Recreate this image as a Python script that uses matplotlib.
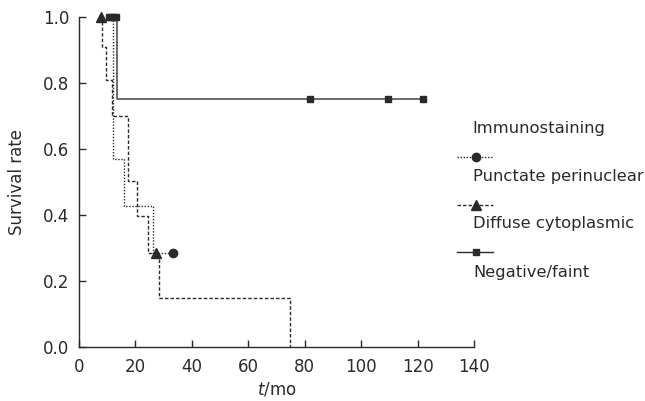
import matplotlib
matplotlib.use("Agg")
import matplotlib.pyplot as plt
from matplotlib.lines import Line2D

# Kaplan-Meier curves (time in months, survival rate)
punctate_t = [11.0, 12.1, 16.0, 26.2, 33.3]
punctate_s = [1.0, 0.571, 0.427, 0.285, 0.285]
punctate_cens_t = [33.3]
punctate_cens_s = [0.285]

diffuse_t = [7.7, 8.0, 9.5, 11.8, 17.4, 20.6, 24.5, 28.2, 74.7]
diffuse_s = [1.0, 0.91, 0.81, 0.70, 0.504, 0.397, 0.285, 0.147, 0.0]
diffuse_cens_t = [7.7, 27.2]
diffuse_cens_s = [1.0, 0.285]

negative_t = [10.5, 13.5, 122.1]
negative_s = [1.0, 0.75, 0.75]
negative_cens_t = [10.5, 11.5, 12.5, 13.2, 81.9, 109.4, 122.1]
negative_cens_s = [1.0, 1.0, 1.0, 1.0, 0.75, 0.75, 0.75]

legend_title = "Immunostaining"
legend_labels = ["Punctate perinuclear", "Diffuse cytoplasmic", "Negative/faint"]

x_ticks = [0, 20, 40, 60, 80, 100, 120, 140]
y_ticks = [0.0, 0.2, 0.4, 0.6, 0.8, 1.0]

W, H = 645, 401
fig = plt.figure(figsize=(W / 100, H / 100), dpi=100)
ax = fig.add_axes([79 / W, 1 - 347 / H, (474 - 79) / W, (347 - 17) / H])

ink = "#2a2a2a"
solid_col = "#606060"
fs = 12
leg_fs = 11.8

# curves
ax.plot(punctate_t, punctate_s, drawstyle="steps-post", color=ink, lw=1.0,
        ls=(0, (1, 1.2)), clip_on=False)
ax.plot(punctate_cens_t, punctate_cens_s, "o", color=ink, ms=6, clip_on=False)

ax.plot(diffuse_t, diffuse_s, drawstyle="steps-post", color=ink, lw=1.0,
        ls=(0, (2.5, 1.5)), clip_on=False)
ax.plot(diffuse_cens_t, diffuse_cens_s, "^", color=ink, ms=7.5, clip_on=False)

ax.plot(negative_t, negative_s, drawstyle="steps-post", color=solid_col, lw=1.3,
        clip_on=False)
ax.plot(negative_cens_t, negative_cens_s, "s", color=ink, ms=5, clip_on=False)

ax.set_xlim(0, 140)
ax.set_ylim(0, 1.0)
ax.set_xticks(x_ticks)
ax.set_yticks(y_ticks)
ax.set_yticklabels(["%.1f" % v for v in y_ticks])
ax.tick_params(direction="in", length=5, width=1, labelsize=fs, colors=ink)
ax.tick_params(axis="x", pad=8)
ax.tick_params(axis="y", pad=7)
for side in ["top", "right"]:
    ax.spines[side].set_visible(False)
for side in ["left", "bottom"]:
    ax.spines[side].set_color(ink)
    ax.spines[side].set_linewidth(1.0)

ax.set_ylabel("Survival rate", fontsize=fs, color=ink, labelpad=12)
ax.set_xlabel("$t$/mo", fontsize=fs, color=ink, labelpad=3)

# legend drawn by hand: handle on one row, label on the next
def fx(px):
    return px / W

def fy(py):
    return 1 - py / H

fig.text(fx(472), fy(128), legend_title, fontsize=leg_fs, color=ink, va="center")
handles = [
    dict(ls=(0, (1, 1.2)), marker="o", ms=6, color=ink),
    dict(ls=(0, (2.5, 1.5)), marker="^", ms=7.5, color=ink),
    dict(ls="-", marker="s", ms=5, color=ink),
]
handle_y = [157, 205, 252]
label_y = [177, 224, 273]
for h, hy, ly, lab in zip(handles, handle_y, label_y, legend_labels):
    fig.add_artist(Line2D([fx(457), fx(493)], [fy(hy), fy(hy)], lw=1.0,
                          color=h["color"], ls=h["ls"]))
    fig.add_artist(Line2D([fx(476)], [fy(hy)], marker=h["marker"],
                          ms=h["ms"], color=h["color"], ls="none"))
    fig.text(fx(473), fy(ly), lab, fontsize=leg_fs, color=ink, va="center")

fig.savefig("out.png", dpi=100)
